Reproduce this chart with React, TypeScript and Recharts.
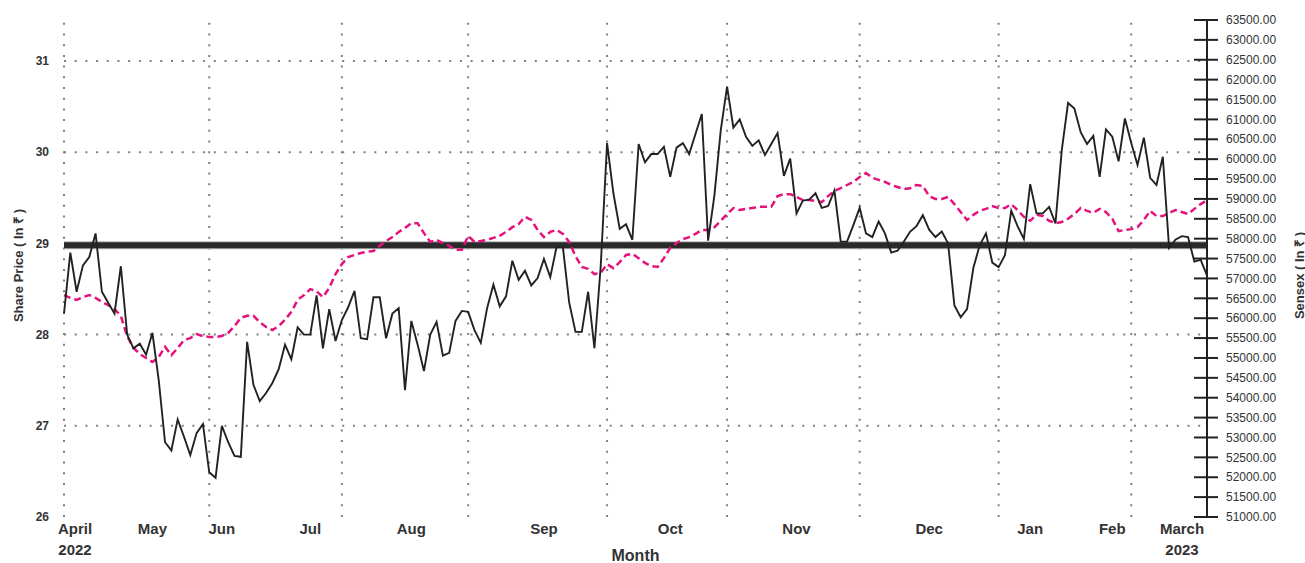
import React from "react";
import { LineChart, Line, XAxis, YAxis, ReferenceLine } from "recharts";

const FONT = "'Liberation Sans', Arial, Helvetica, sans-serif";

// trading sessions (categories)
const sessions: number[] = Array.from({ length: 182 }, (_, i) => i + 1);

// Share price (left axis, in ₹)
const sharePrice = [
  28.23, 28.9, 28.47, 28.76, 28.85, 29.11, 28.47, 28.35, 28.23, 28.75,
  28.0, 27.85, 27.9, 27.78, 28.02, 27.5, 26.82, 26.73, 27.07, 26.88,
  26.68, 26.92, 27.02, 26.49, 26.43, 27.0, 26.82, 26.67, 26.66, 27.92,
  27.45, 27.27, 27.36, 27.47, 27.62, 27.89, 27.73, 28.08, 28.0, 28.0,
  28.43, 27.85, 28.28, 27.93, 28.16, 28.3, 28.48, 27.96, 27.95, 28.41,
  28.41, 27.96, 28.23, 28.29, 27.39, 28.15, 27.89, 27.6, 28.0, 28.14,
  27.77, 27.8, 28.15, 28.26, 28.25, 28.05, 27.91, 28.29, 28.55, 28.31,
  28.42, 28.81, 28.6, 28.7, 28.54, 28.62, 28.83, 28.63, 28.96, 28.96,
  28.35, 28.03, 28.03, 28.47, 27.85, 28.76, 30.1, 29.55, 29.16, 29.21,
  29.04, 30.09, 29.89, 29.98, 29.98, 30.06, 29.73, 30.05, 30.1, 29.98,
  30.2, 30.42, 29.03, 29.53, 30.24, 30.72, 30.27, 30.36, 30.17, 30.07,
  30.13, 29.97, 30.09, 30.21, 29.74, 29.93, 29.33, 29.47, 29.48, 29.55,
  29.39, 29.41, 29.58, 29.02, 29.02, 29.2, 29.39, 29.11, 29.07, 29.24,
  29.11, 28.9, 28.92, 29.02, 29.13, 29.19, 29.31, 29.15, 29.07, 29.13,
  29.0, 28.32, 28.19, 28.28, 28.73, 28.98, 29.11, 28.79, 28.74, 28.87,
  29.36, 29.19, 29.05, 29.65, 29.33, 29.33, 29.4, 29.22, 30.02, 30.54,
  30.48, 30.22, 30.09, 30.18, 29.73, 30.25, 30.17, 29.9, 30.37, 30.1,
  29.86, 30.16, 29.72, 29.64, 29.95, 28.95, 29.04, 29.08, 29.07, 28.8,
  28.82, 28.65,
];

// Sensex (right axis, in ₹)
const sensex = [
  56580, 56510, 56460, 56530, 56580, 56510, 56410, 56330, 56230, 56060,
  55550, 55250, 55100, 55000, 54900, 55020, 55280, 55070, 55250, 55450,
  55500, 55600, 55550, 55530, 55530, 55550, 55630, 55800, 56010, 56060,
  56060, 55900, 55780, 55700, 55800, 55960, 56160, 56460, 56580, 56730,
  56680, 56530, 56760, 57110, 57360, 57540, 57590, 57640, 57670, 57690,
  57820, 57940, 58040, 58170, 58270, 58390, 58390, 58140, 57920, 57970,
  57890, 57820, 57720, 57720, 58070, 57920, 57940, 57970, 58020, 58070,
  58170, 58290, 58370, 58550, 58470, 58220, 58040, 58170, 58220, 58120,
  57920, 57560, 57290, 57240, 57110, 57140, 57360, 57260, 57410, 57590,
  57620, 57510, 57390, 57310, 57290, 57510, 57770, 57890, 57990, 58040,
  58120, 58220, 58220, 58290, 58450, 58620, 58770, 58720, 58750, 58770,
  58800, 58800, 58800, 59070, 59120, 59120, 59050, 58970, 58970, 58950,
  58920, 59070, 59200, 59270, 59350, 59430, 59550, 59650, 59530, 59480,
  59430, 59350, 59300, 59250, 59270, 59350, 59330, 59070, 59000, 59000,
  59050, 58870, 58670, 58470, 58600, 58700, 58750, 58820, 58770, 58770,
  58870, 58720, 58550, 58450, 58600, 58570, 58450, 58390, 58420, 58500,
  58620, 58770, 58700, 58650, 58750, 58670, 58500, 58190, 58220, 58240,
  58290, 58470, 58700, 58570, 58570, 58650, 58720, 58670, 58620, 58750,
  58870, 58970,
];

const monthTicks = [1, 15, 26, 40, 56, 77, 97, 117, 138, 154, 167, 182];
const monthLabels: string[][] = [
  ["April", "2022"], ["May"], ["Jun"], ["Jul"], ["Aug"], ["Sep"],
  ["Oct"], ["Nov"], ["Dec"], ["Jan"], ["Feb"], ["March", "2023"],
];
const gridSessions = [1, 24, 45, 65, 87, 106, 127, 149, 170];

const leftTicks = [26, 27, 28, 29, 30, 31];
const rightTicks = [
  51000, 51500, 52000, 52500, 53000, 53500, 54000, 54500, 55000, 55500,
  56000, 56500, 57000, 57500, 58000, 58500, 59000, 59500, 60000, 60500,
  61000, 61500, 62000, 62500, 63000, 63500,
];
const trendLevel = 28.98;

const data = sessions.map((s, i) => ({ session: s, share: sharePrice[i], sensex: sensex[i] }));

const XTick = (props: any) => {
  const { x, y, payload } = props;
  const idx = monthTicks.indexOf(payload.value);
  if (idx < 0) return <g />;
  const lines = monthLabels[idx];
  const shift = idx === 0 ? 11 : idx === monthTicks.length - 1 ? -25 : 0;
  return (
    <text x={x + shift} y={y} textAnchor="middle" fontSize={15} fontWeight="bold" fill="#333" fontFamily={FONT}>
      {lines.map((l, k) => (
        <tspan key={k} x={x + shift} dy={k === 0 ? 17 : 21}>{l}</tspan>
      ))}
    </text>
  );
};

const RightTick = (props: any) => {
  const { x, y, payload } = props;
  return (
    <g>
      <line x1={x - 13} x2={x + 11} y1={y} y2={y} stroke="#222" strokeWidth={2} />
      <text x={x + 19} y={y} dy="0.35em" textAnchor="start" fontSize={12} fill="#333" fontFamily={FONT}>
        {Number(payload.value).toFixed(2)}
      </text>
    </g>
  );
};

const LeftTitle = (props: any) => {
  const vb = props.viewBox;
  const cx = vb.x + 18;
  const cy = vb.y + vb.height / 2 - 3;
  return (
    <text x={cx} y={cy} transform={`rotate(-90, ${cx}, ${cy})`} textAnchor="middle" dominantBaseline="central"
      fontSize={13} fontWeight="bold" fill="#333" fontFamily={FONT}>Share Price ( In ₹ )</text>
  );
};

const RightTitle = (props: any) => {
  const vb = props.viewBox;
  const cx = vb.x + 92;
  const cy = vb.y + vb.height / 2 + 7;
  return (
    <text x={cx} y={cy} transform={`rotate(-90, ${cx}, ${cy})`} textAnchor="middle" dominantBaseline="central"
      fontSize={13} fontWeight="bold" fill="#333" fontFamily={FONT}>Sensex ( In ₹ )</text>
  );
};

const XTitle = (props: any) => {
  const vb = props.viewBox;
  return (
    <text x={vb.x + vb.width / 2} y={vb.y + 44} textAnchor="middle" fontSize={16} fontWeight="bold" fill="#333" fontFamily={FONT}>
      Month
    </text>
  );
};

export default function App() {
  return (
    <div style={{ position: "absolute", left: 0, top: 0, width: 1305, height: 563, background: "#fff" }}>
      <LineChart width={1305} height={563} data={data} margin={{ top: 20, right: 0, bottom: 0, left: 0 }}>
        <XAxis
          dataKey="session"
          type="category"
          ticks={monthTicks}
          interval={0}
          height={46}
          axisLine={false}
          tickLine={false}
          tickSize={0}
          tickMargin={0}
          tick={<XTick />}
          label={<XTitle />}
        />
        <YAxis
          yAxisId="left"
          orientation="left"
          width={64}
          domain={[26, 31.45]}
          ticks={leftTicks}
          interval={0}
          axisLine={false}
          tickLine={false}
          tickSize={0}
          tickMargin={15}
          tick={{ fontSize: 12, fontWeight: "bold", fill: "#333", fontFamily: FONT }}
          label={<LeftTitle />}
        />
        <YAxis
          yAxisId="right"
          orientation="right"
          width={98}
          domain={[51000, 63500]}
          ticks={rightTicks}
          interval={0}
          axisLine={{ stroke: "#222", strokeWidth: 2 }}
          tickLine={false}
          tickSize={0}
          tickMargin={0}
          tick={<RightTick />}
          label={<RightTitle />}
        />
        {gridSessions.map((s) => (
          <ReferenceLine key={"v" + s} yAxisId="left" x={s} stroke="#7f7f7f" strokeWidth={2} strokeDasharray="2 8.7" />
        ))}
        {leftTicks.filter((t) => t > 26).map((t) => (
          <ReferenceLine key={"h" + t} yAxisId="left" y={t} stroke="#7f7f7f" strokeWidth={2} strokeDasharray="2 8.7" />
        ))}
        <ReferenceLine yAxisId="left" y={trendLevel} stroke="#b5b5b5" strokeWidth={8} />
        <ReferenceLine yAxisId="left" y={trendLevel} stroke="#2a2a2a" strokeWidth={6} />
        <Line
          yAxisId="right"
          type="linear"
          dataKey="sensex"
          stroke="#e5127d"
          strokeWidth={2.5}
          strokeDasharray="7 4"
          dot={false}
          activeDot={false}
          isAnimationActive={false}
        />
        <Line
          yAxisId="left"
          type="linear"
          dataKey="share"
          stroke="#222"
          strokeWidth={1.9}
          dot={false}
          activeDot={false}
          isAnimationActive={false}
        />
      </LineChart>
    </div>
  );
}
